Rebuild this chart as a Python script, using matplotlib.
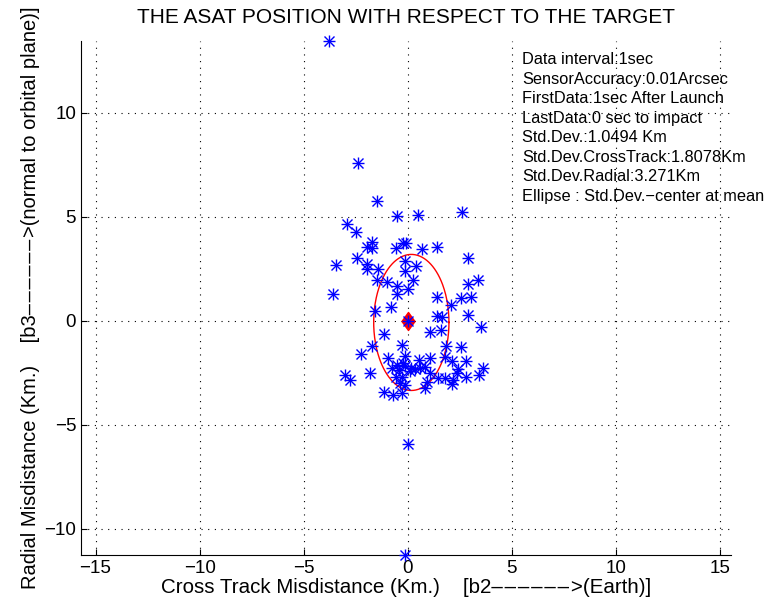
import numpy as np
import matplotlib
matplotlib.use("Agg")
import matplotlib.pyplot as plt
from matplotlib.path import Path

# Scatter of ASAT positions (km): cross-track (x) and radial (y)
cross_track = [-3.80, -2.40, -1.49, -0.53, 0.48, 2.60, -2.93, -2.50, -1.73, -1.97,
               -1.73, -0.58, -0.24, -0.10, 0.67, 1.39, -2.45, -3.46, -1.97, -1.97,
               -1.44, -0.14, 0.38, 2.88, -0.14, -1.49, -1.01, -0.53, 0.24, 0.00,
               -0.53, -3.61, 2.88, 3.37, 1.39, 2.55, 3.03, 2.07, -0.82, -1.59,
               1.39, 1.63, 2.88, 3.51, 1.06, 1.59, -1.15, -1.73, -2.26, -0.29,
               1.83, 2.55, -0.96, -0.14, 0.53, 1.06, 1.78, 2.12, 2.79, 3.61,
               -0.53, -0.24, -0.43, 0.14, -0.14, 0.34, 0.82, 0.10, 1.06, -1.83,
               -3.03, -2.79, -0.29, -0.58, -0.38, -0.14, 1.44, 1.78, 2.16, 2.36,
               2.79, 3.41, 2.12, 0.82, 0.91, -1.15, -0.72, -0.29, 0.00, -0.14,
               2.40, -0.77, 0.58]
radial = [13.46, 7.60, 5.77, 5.05, 5.10, 5.24, 4.66, 4.28, 3.80, 3.56,
          3.51, 3.51, 3.75, 3.75, 3.46, 3.56, 3.03, 2.69, 2.74, 2.50,
          2.50, 2.88, 2.64, 3.03, 2.40, 1.97, 1.88, 1.68, 1.97, 1.54,
          1.30, 1.30, 1.78, 1.97, 1.15, 1.10, 1.15, 0.77, 0.67, 0.48,
          0.24, 0.19, 0.29, -0.29, -0.53, -0.43, -0.62, -1.20, -1.59, -1.15,
          -1.20, -1.25, -1.78, -1.68, -1.88, -1.78, -1.73, -1.92, -1.92, -2.26,
          -2.12, -2.02, -2.36, -2.26, -2.16, -2.31, -2.21, -2.40, -2.50, -2.50,
          -2.60, -2.84, -2.69, -2.69, -2.98, -3.08, -2.74, -2.74, -2.84, -2.50,
          -2.69, -2.60, -3.03, -3.22, -2.93, -3.41, -3.56, -3.46, -5.91, -11.25,
          -2.31, -2.26, -2.26]

target_x = [0.0]
target_y = [0.0]

ell_center = (0.17, -0.07)
ell_axes = (1.8078, 3.271)

xticks = [-15, -10, -5, 0, 5, 10, 15]
yticks = [-10, -5, 0, 5, 10]

info_lines = ["Data interval:1sec",
              "SensorAccuracy:0.01Arcsec",
              "FirstData:1sec After Launch",
              "LastData:0 sec to impact",
              "Std.Dev.:1.0494 Km",
              "Std.Dev.CrossTrack:1.8078Km",
              "Std.Dev.Radial:3.271Km",
              "Ellipse : Std.Dev.\u2212center at mean"]

DASHES = "\u2013\u200a" * 6

plt.rcParams['font.family'] = ['Liberation Sans', 'DejaVu Sans']

fig = plt.figure(figsize=(7.69, 6.14), dpi=100)
ax = fig.add_axes([0.1053, 0.0961, 0.8459, 0.8371])

# stars (MATLAB '*' look: + and x overlaid)
ax.plot(cross_track, radial, linestyle='none', marker='+', ms=9, mew=1.0,
        color=(0, 0, 1), clip_on=False, zorder=3)
ax.plot(cross_track, radial, linestyle='none', marker='x', ms=6.5, mew=1.0,
        color=(0, 0, 1), clip_on=False, zorder=3)

# ellipse
t = np.linspace(0, 2 * np.pi, 300)
ax.plot(ell_center[0] + ell_axes[0] * np.cos(t),
        ell_center[1] + ell_axes[1] * np.sin(t), color='red', lw=1.0, zorder=2)

# target
diamond = Path([(0, 1), (0.72, 0), (0, -1), (-0.72, 0), (0, 1)], closed=True)
ax.plot(target_x, target_y, linestyle='none', marker=diamond, ms=13, mfc='red',
        mec='red', zorder=4)
ax.plot(target_x, target_y, linestyle='none', marker='+', ms=9, mew=1.0,
        color=(0, 0, 1), zorder=5)
ax.plot(target_x, target_y, linestyle='none', marker='x', ms=6.5, mew=1.0,
        color=(0, 0, 1), zorder=5)

ax.set_xlim(-15.7, 15.55)
ax.set_ylim(-11.25, 13.46)
ax.set_xticks(xticks)
ax.set_yticks(yticks)
ax.grid(True, linestyle=(0, (1, 5)), color='black', lw=0.8)
ax.spines['top'].set_visible(False)
ax.spines['right'].set_visible(False)
ax.tick_params(direction='in', length=4, labelsize=13.5, top=False, right=False)

for i, line in enumerate(info_lines):
    ax.text(5.48, 12.55 - i * 0.935, line, fontsize=11.8, ha='left', va='center')

ax.set_title("THE ASAT POSITION WITH RESPECT TO THE TARGET", fontsize=15, pad=13)
ax.set_xlabel("Cross Track Misdistance (Km.)    [b2" + DASHES + ">(Earth)]",
              fontsize=14.8, labelpad=1)
ax.set_ylabel("Radial Misdistance (Km.)    [b3" + DASHES + ">(normal to orbital plane)]",
              fontsize=14.5, labelpad=3)

fig.savefig("out.png", dpi=100)
